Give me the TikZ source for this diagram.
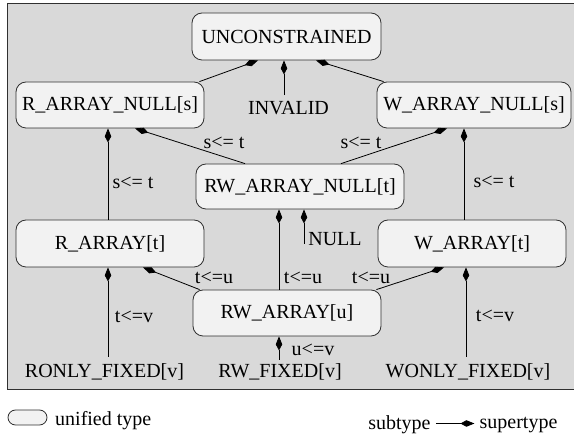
\documentclass[tikz,border=0pt]{standalone}
\usepackage{fontspec}
\setmainfont{Liberation Serif}
\usetikzlibrary{arrows.meta,calc}
\definecolor{panel}{HTML}{D9D9D9}
\definecolor{boxfill}{HTML}{F2F2F2}
\definecolor{edge}{HTML}{303030}
\tikzset{
  utype/.style={draw=edge, line width=0.8pt, fill=boxfill, rounded corners=10pt,
    minimum height=46pt, inner sep=0pt},
  plain/.style={inner sep=0pt},
  lbl/.style={inner sep=0pt},
  sub/.style={draw=black, line width=0.8pt, -{Kite[length=14pt,width=6.5pt,inset=6pt]}},
}
\begin{document}
\begin{tikzpicture}[x=1pt,y=-1pt,font=\fontsize{20}{24}\selectfont]
\useasboundingbox (0,0) rectangle (574,435);
% background panel
\draw[draw=edge, line width=0.8pt, fill=panel] (7,3) rectangle (580,389);

% unified types
\node[utype, minimum width=189pt, minimum height=47pt] (un)  at (286.5,36.5) {UNCONSTRAINED};
\node[utype, minimum width=188pt] (rn)  at (110,105)   {R\_ARRAY\_NULL[s]};
\node[utype, minimum width=194pt] (wn)  at (474,105)   {W\_ARRAY\_NULL[s]};
\node[utype, minimum width=208pt, minimum height=45pt] (rwn) at (300,186.5) {RW\_ARRAY\_NULL[t]};
\node[utype, minimum width=188pt, minimum height=47pt] (ra)  at (110,243.5) {R\_ARRAY[t]};
\node[utype, minimum width=188pt, minimum height=47pt] (wa)  at (472,243.5) {W\_ARRAY[t]};
\node[utype, minimum width=188pt] (rwa) at (287,313)   {RW\_ARRAY[u]};

% fixed types and constants
\node[plain] (inv)   at (288.5,108) {INVALID};
\node[plain] (null)  at (335,239)   {NULL};
\coordinate (nl) at (304,244);
\node[plain] (ronly) at (104.5,372) {RONLY\_FIXED[v]};
\node[plain] (rwfix) at (280,372)   {RW\_FIXED[v]};
\node[plain] (wonly) at (468,372)   {WONLY\_FIXED[v]};

% subtype -> supertype edges
\draw[sub] ([xshift=-5pt]rn.north east) -- ([xshift=-28.5pt]un.south);
\draw[sub] ([xshift=7pt]wn.north west) -- ([xshift=29.5pt]un.south);
\draw[sub] ([xshift=-4.5pt,yshift=6pt]inv.north) -- ([xshift=-4.5pt]inv.north |- un.south);

\draw[sub] ([xshift=-55pt]rwn.north) -- ([xshift=25pt]rn.south);
\draw[sub] ([xshift=41pt]rwn.north) -- ([xshift=-27pt]wn.south);
\draw[sub] ([xshift=-2pt]ra.north) -- ([xshift=-2pt]rn.south);
\draw[sub] ([xshift=-8pt]wa.north) -- ([xshift=-8pt]wa.north |- wn.south);

\draw[sub] ([xshift=7pt]rwa.north west) -- ([xshift=33pt]ra.south);
\draw[sub] ([xshift=-8pt]rwa.north) -- ([xshift=-8pt]rwa.north |- rwn.south);
\draw[sub] (nl) -- (nl |- rwn.south);
\draw[sub] ([xshift=-5pt]rwa.north east) -- ([xshift=-28pt]wa.south);

\draw[sub] ([xshift=3.5pt,yshift=7pt]ronly.north) -- ([xshift=3.5pt]ronly.north |- ra.south);
\draw[sub] ([xshift=-1pt,yshift=4pt]rwfix.north) -- ([xshift=-1pt]rwfix.north |- rwa.south);
\draw[sub] ([xshift=-2pt,yshift=7pt]wonly.north) -- ([xshift=-2pt]wonly.north |- wa.south);

% edge labels
\node[lbl] at (224,143) {s<= t};
\node[lbl] at (361,143) {s<= t};
\node[lbl] at (133,183) {s<= t};
\node[lbl] at (494,182) {s<= t};
\node[lbl] at (214,278) {t<=u};
\node[lbl] at (303,278) {t<=u};
\node[lbl] at (371,278) {t<=u};
\node[lbl] at (134,317) {t<=v};
\node[lbl] at (495,316) {t<=v};
\node[lbl] at (313,350) {u<=v};

% legend
\node[draw=edge, line width=0.8pt, fill=boxfill, rounded corners=7.5pt,
      minimum width=39pt, minimum height=15pt, inner sep=0pt] (key) at (27.5,417.5) {};
\node[plain, anchor=west] (keytxt) at (55,421) {unified type};
\node[plain] (subt) at (399.5,425) {subtype};
\node[plain] (supt) at (518.5,425) {supertype};
\coordinate (arrowrow) at (0,423.5);
\draw[sub, shorten <=5pt, shorten >=5pt] (subt.east |- arrowrow) -- (supt.west |- arrowrow);
\end{tikzpicture}
\end{document}
